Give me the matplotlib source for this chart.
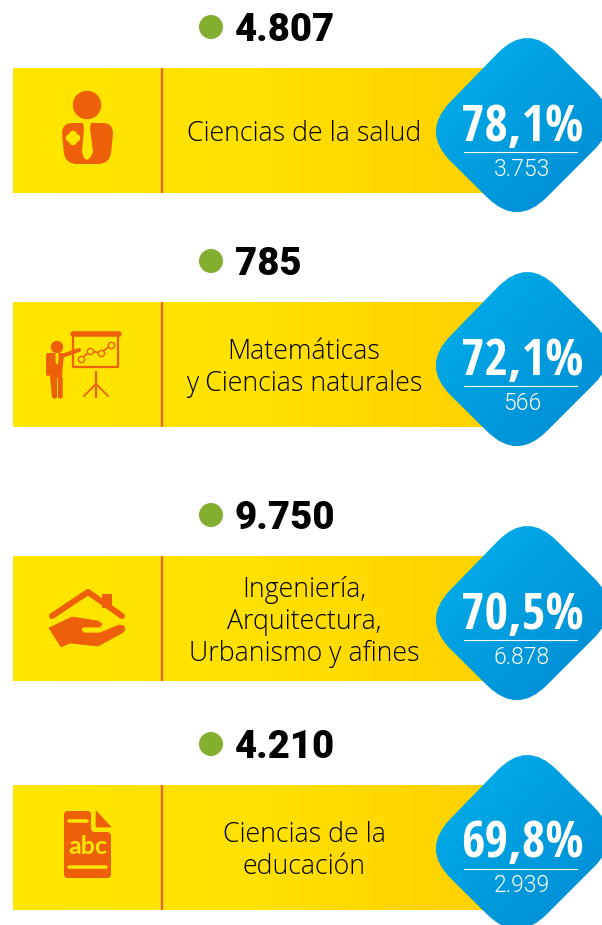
# -*- coding: utf-8 -*-
import numpy as np
import matplotlib
matplotlib.use('Agg')
import matplotlib.pyplot as plt
from matplotlib.path import Path
from matplotlib.patches import PathPatch, Circle, Polygon, Rectangle
from matplotlib.colors import LinearSegmentedColormap

totals = ['4.807', '785', '9.750', '4.210']
areas = ['Ciencias de la salud', 'Matemáticas\ny Ciencias naturales',
         'Ingeniería,\nArquitectura,\nUrbanismo y afines', 'Ciencias de la\neducación']
percents = ['78,1%', '72,1%', '70,5%', '69,8%']
counts = ['3.753', '566', '6.878', '2.939']
bar_tops = [68, 302, 556, 785]

ORANGE = '#EE5F0A'
YELLOW = '#FFE600'
yellow_map = LinearSegmentedColormap.from_list('y', ['#FFE600', '#FFE100', '#FFD000'])
blue_map = LinearSegmentedColormap.from_list('b', ['#00B4EE', '#0086CF'])

fig = plt.figure(figsize=(6.02, 9.25), dpi=100)
ax = fig.add_axes([0, 0, 1, 1])


def rounded_poly(pts, d):
    # polygon with corners replaced by quadratic curves
    pts = np.array(pts, dtype=float)
    n = len(pts)
    verts, codes = [], []
    for i in range(n):
        c = pts[i]
        a = pts[i - 1] - c
        b = pts[(i + 1) % n] - c
        p0 = c + a / np.hypot(*a) * d
        p1 = c + b / np.hypot(*b) * d
        verts += [p0, c, p1]
        codes += [Path.MOVETO if i == 0 else Path.LINETO, Path.CURVE3, Path.CURVE3]
    verts.append(verts[0])
    codes.append(Path.CLOSEPOLY)
    return Path(verts, codes)


def stroke(xs, ys, lw, color=ORANGE):
    ax.plot(xs, ys, color=color, lw=lw * 0.72, solid_capstyle='round',
            solid_joinstyle='round', zorder=4)


def icon_person():
    ax.add_patch(Circle((87, 105), 13.5, color=ORANGE, zorder=4))
    body = rounded_poly([(61, 123), (114, 123), (110, 164), (65, 164)], 12)
    ax.add_patch(PathPatch(body, fc=ORANGE, ec='none', zorder=4))
    ax.add_patch(Polygon([(83, 123), (91, 123), (90, 128), (93, 152), (90, 158), (87, 160), (84, 158), (82, 152),
                          (84, 128)], fc=YELLOW, ec='none', zorder=5))
    ax.add_patch(Circle((73, 138), 3.2, color=YELLOW, zorder=5))
    for dx, dy in [(-3.4, 0), (3.4, 0), (0, -3.4), (0, 3.4)]:
        ax.add_patch(Circle((73 + dx, 138 + dy), 3.2, color=YELLOW, zorder=5))


def icon_presenter():
    ax.add_patch(Circle((57, 347), 5.5, color=ORANGE, zorder=4))
    body = rounded_poly([(46, 353), (64, 353), (62, 376), (62, 398), (52, 398), (50, 376)], 2)
    ax.add_patch(PathPatch(body, fc=ORANGE, ec='none', zorder=4))
    stroke([48, 48], [357, 374], 4)
    stroke([62, 79], [356, 350], 4)
    stroke([53.5, 53.5], [378, 396], 4.5)
    stroke([60, 60], [378, 396], 4.5)
    ax.plot([57, 57], [378, 398], color=YELLOW, lw=0.7, zorder=5)
    ax.add_patch(Polygon([(55.5, 353), (58.5, 353), (58.5, 362), (57, 365), (55.5, 362)],
                         fc=YELLOW, ec='none', zorder=5))
    # board
    stroke([73, 119], [333.5, 333.5], 5.5)
    stroke([73, 73, 118, 118], [336, 367, 367, 336], 2.2)
    xs = [81, 90, 101, 111]
    ys = [359, 351, 353, 345]
    ax.plot(xs, ys, color=ORANGE, lw=1.2, zorder=4, marker='o', ms=4.5, mfc=YELLOW, mec=ORANGE, mew=1)
    # tripod
    ax.plot([96, 96], [372, 397], color=ORANGE, lw=1.6, zorder=4)
    ax.plot([84, 96, 108], [396, 384, 396], color=ORANGE, lw=1.3, zorder=4)


def icon_house():
    stroke([52, 88, 122], [616, 592, 616], 6)
    ax.add_patch(Rectangle((102, 594), 10, 14, fc=ORANGE, ec='none', zorder=4))
    hand = [(49, 628), (72, 617), (98, 621), (102, 624), (100, 627), (83, 627), (81, 630), (84, 633), (100, 633),
            (119, 625), (124, 626), (125, 630), (122, 633), (98, 646), (70, 643), (61, 647)]
    ax.add_patch(Polygon(hand, fc=ORANGE, ec=ORANGE, lw=0.5, joinstyle='round', zorder=4))


def icon_doc():
    body = rounded_poly([(64, 811), (91, 811), (91, 832), (111, 832), (111, 878), (64, 878)], 4)
    ax.add_patch(PathPatch(body, fc=ORANGE, ec='none', zorder=4))
    ax.add_patch(Polygon([(96, 811), (111, 827), (96, 827)], fc=ORANGE, ec=ORANGE, lw=0.5,
                         joinstyle='round', zorder=4))
    stroke([69, 87], [821, 821], 3.5, YELLOW)
    stroke([69, 106], [867, 867], 3.5, YELLOW)
    ax.text(87.5, 846, 'abc', family='Lato', weight='bold', fontsize=18, color=YELLOW, ha='center', va='center',
            zorder=5)


icons = [icon_person, icon_presenter, icon_house, icon_doc]
grad_h = np.linspace(0, 1, 256).reshape(1, -1)
gx, gy = np.meshgrid(np.linspace(0, 1, 128), np.linspace(0, 1, 128))

for i, top in enumerate(bar_tops):
    # bullet and total
    ax.add_patch(Circle((211, top - 41), 11.3, color='#84AE30', zorder=3))
    ax.text(235, top - 37.5, totals[i], family='Roboto', weight=900, fontsize=27.5,
            color='black', ha='left', va='center')

    # yellow band
    ax.imshow(grad_h, cmap=yellow_map, extent=(13, 500, top + 125, top), aspect='auto', zorder=1)
    ax.plot([162, 162], [top, top + 124.5], color='#E8603C', lw=1.6, zorder=2, solid_capstyle='butt')

    ax.text(304, top + 66, areas[i], family='Open Sans', weight=300, fontsize=19.3, color='black', ha='center',
            va='center', linespacing=1.19, zorder=3)

    # blue rhombus
    rhomb = rounded_poly([(421, top + 64), (527, top - 45), (624, top + 52), (517, top + 159)], 42)
    patch = PathPatch(rhomb, fc='none', ec='none', zorder=3)
    ax.add_patch(patch)
    im = ax.imshow((gx + gy) / 2, cmap=blue_map, extent=(421, 624, top + 159, top - 45), aspect='auto', zorder=3)
    im.set_clip_path(patch)

    ax.text(522, top + 59.5, percents[i], family='Open Sans Condensed', weight='bold', fontsize=36.5,
            color='white', ha='center', va='center', zorder=5)
    ax.plot([464, 577], [top + 84, top + 84], color='white', lw=0.8, zorder=5)
    ax.text(522, top + 101, counts[i], family='Roboto', weight=300, fontsize=16.5, color='white',
            ha='center', va='center', zorder=5)

    icons[i]()

ax.set_xlim(0, 602)
ax.set_ylim(925, 0)
ax.axis('off')
fig.savefig('out.png', dpi=100, facecolor='white')
